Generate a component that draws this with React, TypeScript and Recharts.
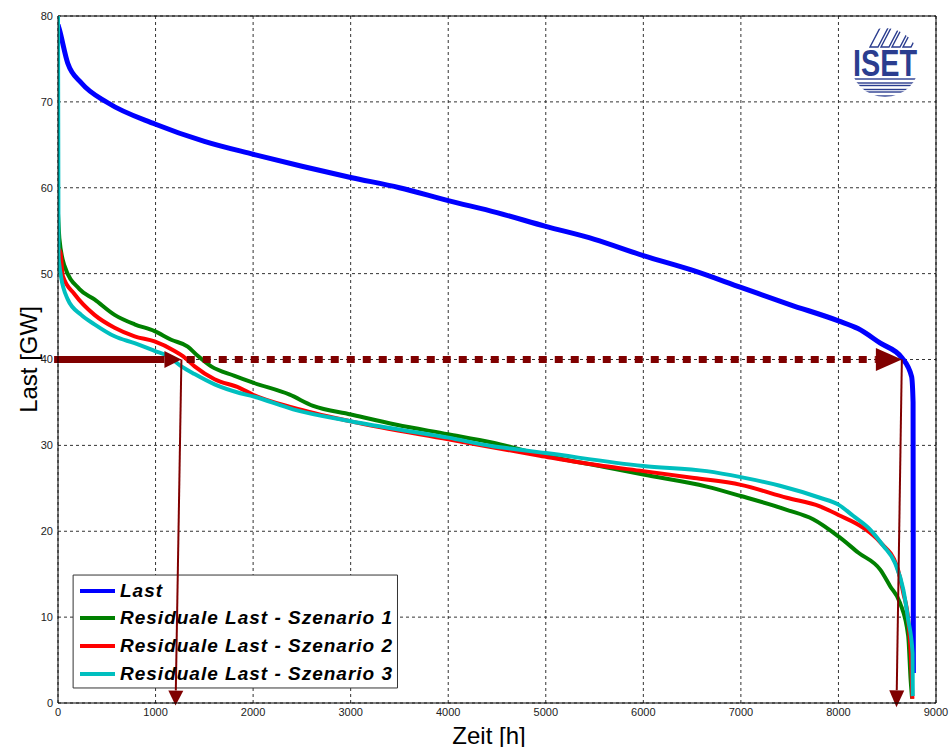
import React from "react";
import {
  LineChart,
  Line,
  XAxis,
  YAxis,
  CartesianGrid,
  Legend,
  ReferenceLine,
  ReferenceArea,
} from "recharts";

// Jahresdauerlinie: Stunden (h) und Last (GW)
const lastHours = [0, 15, 100, 240, 510, 1000, 1500, 2000, 2500, 3000, 3500, 4000, 4500, 5000, 5500, 6000, 6500, 7000, 7500, 8000, 8200, 8430, 8650, 8750, 8765, 8768];
const lastValues = [79, 78.4, 74.5, 72.2, 69.9, 67.4, 65.4, 63.9, 62.5, 61.2, 60.0, 58.5, 57.1, 55.5, 54.0, 52.1, 50.4, 48.4, 46.4, 44.5, 43.6, 41.9, 40.2, 38.0, 35.0, 3.5];

const s1Hours = [0, 15, 67, 220, 374, 580, 785, 990, 1160, 1330, 1435, 1570, 1810, 2000, 2375, 2615, 3000, 3470, 4000, 4460, 5000, 5590, 6000, 6650, 7000, 7470, 7740, 8000, 8205, 8430, 8530, 8630, 8715, 8740, 8755];
const s1Values = [57, 54, 50.9, 48.2, 47.0, 45.2, 44.1, 43.3, 42.3, 41.5, 40.4, 39.2, 38.1, 37.3, 35.9, 34.6, 33.6, 32.4, 31.3, 30.3, 28.8, 27.5, 26.6, 25.2, 24.1, 22.5, 21.4, 19.4, 17.5, 15.5, 13.6, 11.7, 7.8, 2.7, 0.5];

const s2Hours = [0, 26, 50, 170, 374, 580, 785, 990, 1195, 1280, 1400, 1605, 1860, 2000, 2410, 3000, 4000, 4940, 5590, 6000, 6520, 7000, 7470, 7810, 8000, 8255, 8430, 8600, 8665, 8715, 8750, 8758];
const s2Values = [53, 52.4, 49.7, 47.6, 45.2, 43.7, 42.7, 42.1, 41.0, 40.4, 39.2, 37.7, 36.7, 35.9, 34.4, 32.8, 30.7, 28.8, 27.6, 27.0, 26.2, 25.4, 23.9, 22.9, 21.9, 20.4, 18.7, 15.9, 12.8, 9.7, 3.5, 0.5];

const s3Hours = [0, 5, 15, 30, 100, 238, 374, 580, 785, 990, 1125, 1265, 1400, 1605, 1860, 2000, 2410, 3000, 4000, 4460, 4733, 5000, 6000, 6650, 7000, 7400, 7810, 8000, 8150, 8325, 8460, 8580, 8665, 8715, 8760, 8762];
const s3Values = [80, 52, 50.9, 49.7, 47.0, 45.2, 44.1, 42.7, 41.9, 41.0, 40.4, 39.2, 38.3, 37.1, 36.1, 35.7, 34.2, 32.8, 30.9, 29.9, 29.5, 29.1, 27.6, 27.0, 26.3, 25.3, 23.9, 23.1, 21.8, 20.2, 18.3, 16.3, 13.2, 9.7, 5.8, 0.8];

const xTicks = [0, 1000, 2000, 3000, 4000, 5000, 6000, 7000, 8000, 9000];
const yTicks = [0, 10, 20, 30, 40, 50, 60, 70, 80];

const threshold = 40;
const residualHours = [1265, 1205]; // Schnittpunkt, Fusspunkt
const loadHours = [8650, 8595];

const toRows = (hours: number[], values: number[]) =>
  hours.map((h, i) => ({ h, v: values[i] }));

const series = [
  { name: "Last", color: "#0000ff", width: 5, data: toRows(lastHours, lastValues) },
  { name: "Residuale Last - Szenario 1", color: "#008000", width: 4, data: toRows(s1Hours, s1Values) },
  { name: "Residuale Last - Szenario 2", color: "#ff0000", width: 4, data: toRows(s2Hours, s2Values) },
  { name: "Residuale Last - Szenario 3", color: "#00bfbf", width: 4, data: toRows(s3Hours, s3Values) },
];

const FONT = '"Liberation Sans", Arial, sans-serif';
const ARROW = "#800000";

function arrowShape(head: number, spread: number, dash?: string) {
  return (p: any) => {
    const { x1, y1, x2, y2, stroke, strokeWidth } = p;
    const dx = x2 - x1;
    const dy = y2 - y1;
    const len = Math.hypot(dx, dy) || 1;
    const ux = dx / len;
    const uy = dy / len;
    const bx = x2 - ux * head;
    const by = y2 - uy * head;
    const nx = (-uy * spread) / 2;
    const ny = (ux * spread) / 2;
    return (
      <g>
        <line x1={x1} y1={y1} x2={bx} y2={by} stroke={stroke} strokeWidth={strokeWidth} strokeDasharray={dash} />
        <polygon points={`${x2},${y2} ${bx + nx},${by + ny} ${bx - nx},${by - ny}`} fill={stroke} />
      </g>
    );
  };
}

function LegendBox({ payload }: any) {
  return (
    <div style={{ paddingTop: 2 }}>
      {(payload || []).map((e: any) => (
        <div key={e.value} style={{ display: "flex", alignItems: "center", height: 27.6 }}>
          <div style={{ marginLeft: 7, width: 35, height: 4, background: e.color }} />
          <span
            style={{
              marginLeft: 5,
              fontFamily: FONT,
              fontSize: 19,
              fontWeight: "bold",
              fontStyle: "italic",
              letterSpacing: 1,
              color: "#000",
              whiteSpace: "nowrap",
            }}
          >
            {e.value}
          </span>
        </div>
      ))}
    </div>
  );
}

function IsetLogo() {
  const navy = "#2b3d8f";
  return (
    <svg width={100} height={90} style={{ position: "absolute", left: 835, top: 18 }}>
      <defs>
        <clipPath id="isetCircle">
          <circle cx={50} cy={44.5} r={34.5} />
        </clipPath>
      </defs>
      <g clipPath="url(#isetCircle)" fill="#fff" stroke={navy} strokeWidth={1.4}>
        {[0, 1, 2, 3].map((i) => (
          <polygon key={i} points={`${35 + i * 11},29 ${43 + i * 11},29 ${54 + i * 11},8 ${46 + i * 11},8`} />
        ))}
        {[0, 1, 2].map((i) => (
          <rect key={i} x={0} y={61 + i * 6.5} width={100} height={4} />
        ))}
      </g>
      <text
        x={18}
        y={58}
        textLength={64}
        lengthAdjust="spacingAndGlyphs"
        fontFamily={FONT}
        fontWeight="bold"
        fontSize={36}
        fill={navy}
      >
        ISET
      </text>
    </svg>
  );
}

export default function App() {
  return (
    <div style={{ position: "absolute", left: 0, top: 0, width: 949, height: 747, background: "#fff" }}>
      <LineChart width={949} height={747} margin={{ top: 16, right: 13, left: 8, bottom: 14 }}>
        <CartesianGrid stroke="#333" strokeDasharray="3 3" />
        <XAxis
          type="number"
          dataKey="h"
          domain={[0, 9000]}
          ticks={xTicks}
          allowDataOverflow
          height={30}
          stroke="#000"
          tickLine={false}
          tickSize={3}
          tickMargin={2}
          tick={{ fill: "#222", fontSize: 11, fontFamily: FONT }}
          label={{
            content: ({ viewBox }: any) => (
              <text
                x={viewBox.x + viewBox.width / 2 - 8}
                y={735}
                textAnchor="middle"
                dominantBaseline="central"
                fontFamily={FONT}
                fontSize={24}
                fill="#000"
              >
                Zeit [h]
              </text>
            ),
          }}
        />
        <YAxis
          type="number"
          domain={[0, 80]}
          ticks={yTicks}
          allowDataOverflow
          width={50}
          stroke="#000"
          tickLine={false}
          tickSize={3}
          tickMargin={2}
          tick={{ fill: "#222", fontSize: 11, fontFamily: FONT }}
          label={{
            content: ({ viewBox }: any) => {
              const cx = viewBox.x + 20;
              const cy = viewBox.y + viewBox.height / 2;
              return (
                <text
                  x={cx}
                  y={cy}
                  transform={`rotate(-90, ${cx}, ${cy})`}
                  textAnchor="middle"
                  dominantBaseline="central"
                  fontFamily={FONT}
                  fontSize={24}
                  fill="#000"
                >
                  Last [GW]
                </text>
              );
            },
          }}
        />
        <ReferenceLine y={80} stroke="#000" strokeWidth={1} />
        <ReferenceLine x={9000} stroke="#000" strokeWidth={1} />
        <ReferenceArea x1={155} x2={3480} y1={1.75} y2={14.9} fill="#fff" fillOpacity={1} stroke="#333" strokeWidth={1} />
        {series.map((s) => (
          <Line
            key={s.name}
            data={s.data}
            dataKey="v"
            name={s.name}
            type="monotone"
            stroke={s.color}
            strokeWidth={s.width}
            strokeLinejoin="round"
            dot={false}
            activeDot={false}
            isAnimationActive={false}
          />
        ))}
        <ReferenceLine
          segment={[{ x: -40, y: threshold }, { x: residualHours[0], y: threshold }]}
          ifOverflow="visible"
          stroke={ARROW}
          strokeWidth={7}
          shape={arrowShape(17, 17)}
        />
        <ReferenceLine
          segment={[{ x: residualHours[0] + 55, y: threshold }, { x: loadHours[0], y: threshold }]}
          ifOverflow="visible"
          stroke={ARROW}
          strokeWidth={7}
          shape={arrowShape(26, 23, "8 8")}
        />
        <ReferenceLine
          segment={[{ x: residualHours[0], y: threshold }, { x: residualHours[1], y: -0.3 }]}
          ifOverflow="visible"
          stroke={ARROW}
          strokeWidth={2}
          shape={arrowShape(15, 15)}
        />
        <ReferenceLine
          segment={[{ x: loadHours[0], y: threshold }, { x: loadHours[1], y: -0.5 }]}
          ifOverflow="visible"
          stroke={ARROW}
          strokeWidth={2}
          shape={arrowShape(17, 15)}
        />
        <Legend
          layout="vertical"
          align="center"
          verticalAlign="middle"
          content={<LegendBox />}
          wrapperStyle={{ position: "absolute", left: 73, top: 575, width: 325, height: 113 }}
        />
      </LineChart>
      <IsetLogo />
    </div>
  );
}
